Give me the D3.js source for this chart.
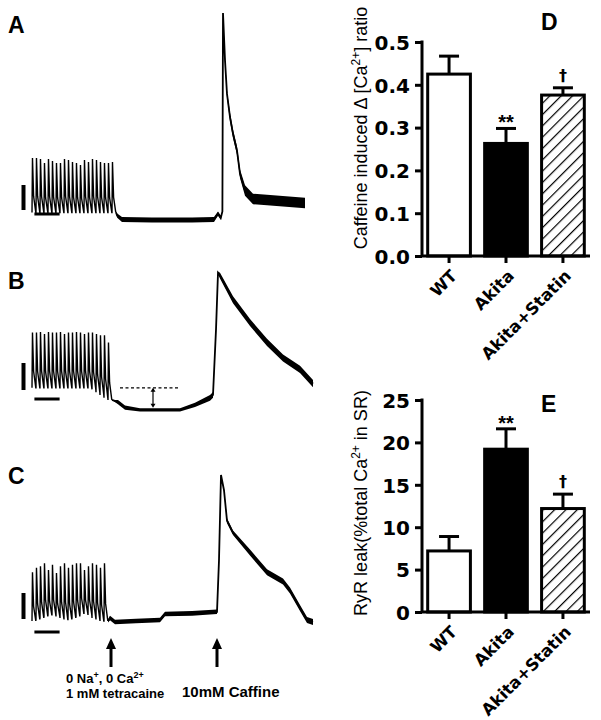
<!DOCTYPE html>
<html>
<head>
<meta charset="utf-8">
<script src="https://cdn.jsdelivr.net/npm/d3@7"></script>
<style>
  body { margin: 0; background: #fff; }
  svg { display: block; }
  text { font-family: "Liberation Sans", Arial, sans-serif; fill: #000; }
  .tick-lbl { font-family: "DejaVu Sans", sans-serif; font-weight: bold; font-size: 20px; }
  .cat-lbl { font-family: "DejaVu Sans", sans-serif; font-weight: bold; font-size: 16.5px; }
</style>
</head>
<body>
<div id="fig"></div>
<script>
// ---- bar chart data (D, E) ----
const categories = ["WT", "Akita", "Akita+Statin"];
const caffeineRatio = [0.425, 0.263, 0.376];
const caffeineSem = [0.042, 0.035, 0.017];
const ryrLeak = [7.2, 19.2, 12.2];
const ryrSem = [1.7, 2.4, 1.7];
const sigMarks = ["", "**", "\u2020"];
const ticksD = [0, 0.1, 0.2, 0.3, 0.4, 0.5];
const ticksE = [0, 5, 10, 15, 20, 25];

// ---- Ca2+ traces (A, B, C), time in s, signal in a.u. ----
// peak of each field-stimulated transient
const peaksA = [.305,.305,.30,.281,.30,.29,.281,.281,.30,.295,.286,.281,.271,.295,.286,.30,.295,.286,.281,.281,.286];
const troughsA = [.045,.045,.045,.045,.045,.045,.045,.045,.045,.045,.045,.045,.045,.045,.045,.045,.045,.045,.045,.045,.045];
const peaksB = [.56,.56,.563,.55,.563,.56,.56,.563,.55,.56,.56,.563,.56,.55,.56,.56,.55,.54,.54,.49];
const troughsB = [.17,.17,.17,.17,.17,.17,.17,.17,.17,.17,.17,.17,.17,.17,.17,.16,.14,.12,.10,.085];
const peaksC = [.34,.37,.38,.40,.355,.39,.335,.38,.40,.37,.39,.40,.40,.355,.38,.40,.39,.37,.40];
const troughsC = [.02,.03,.04,.05,.06,.06,.05,.04,.03,.03,.04,.05,.07,.07,.06,.04,.03,.02,.02];
// [time, signal, noise half-width] after stimulation stops
const restA = [[21,.045,.005],[21.3,.03,.01],[22.5,.012,.012],[30,.01,.012],[40,.01,.012],[45.5,.012,.012],
  [46.5,.04,.01],[47.2,.02,.01],[47.6,.05,0],[47.75,.995,0],[48.25,.77,.015],[48.75,.61,.015],[49.5,.50,.02],
  [50.25,.42,.02],[51.25,.34,.02],[52,.23,.02],[53.25,.15,.025],[55.25,.11,.025],[58.75,.105,.025],[68.25,.09,.025]];
const restB = [[20,.085,0],[21.5,.07,.015],[23.25,.03,.015],[27,.015,.012],[37,.015,.012],[40.75,.05,.015],
  [44.5,.10,.02],[45.25,.12,.02],[46,.58,.01],[46.5,.98,.01],[47,.96,.02],[50.25,.79,.025],[54.5,.63,.025],
  [58.75,.49,.025],[62.75,.38,.025],[67,.30,.025],[70.25,.20,.025]];
const restC = [[19,.02,.01],[19.5,.04,.015],[20.75,.013,.015],[26,.02,.015],[32,.026,.015],[33.25,.066,.015],
  [40,.07,.015],[46.25,.08,.015],[46.75,.42,0],[47.25,.98,0],[48,.88,.01],[48.75,.68,.015],[50.25,.60,.015],
  [54.5,.47,.02],[58.75,.34,.02],[62.75,.28,.02],[64.5,.22,.02],[67,.105,.02],[68.75,.026,.02],[70.25,.013,.02]];
const leakLevelB = 0.17;       // dashed reference line
const leakTimesB = [22, 37];
const solutionTimes = [19.75, 46.25]; // arrows under C

const W = 601, H = 720;
const svg = d3.select("#fig").append("svg").attr("width", W).attr("height", H);

// hatch pattern
svg.append("defs").append("pattern")
  .attr("id", "hatch").attr("patternUnits", "userSpaceOnUse")
  .attr("width", 8).attr("height", 8).attr("patternTransform", "rotate(45)")
  .append("line").attr("x1", 0).attr("y1", 0).attr("x2", 0).attr("y2", 8)
  .attr("stroke", "#000").attr("stroke-width", 2.4);

// ================= traces =================
const xT = d3.scaleLinear().domain([0, 70]).range([32, 312]);

const tracePanels = [
  {label: "A", peaks: peaksA, troughs: troughsA, rest: restA, range: [222, 12], letterY: 33, vbar: [185, 210], hbarY: 214},
  {label: "B", peaks: peaksB, troughs: troughsB, rest: restB, range: [412, 270], letterY: 289, vbar: [363, 390], hbarY: 399},
  {label: "C", peaks: peaksC, troughs: troughsC, rest: restC, range: [624, 472], letterY: 484, vbar: [593, 619], hbarY: 632}
];

tracePanels.forEach(p => {
  const y = d3.scaleLinear().domain([0, 1]).range(p.range);
  const g = svg.append("g");

  // stimulated transients
  const pts = [];
  p.peaks.forEach((pk, i) => {
    const tr = p.troughs[i];
    pts.push([i, tr], [i + 0.12, pk], [i + 0.4, tr + 0.3 * (pk - tr)], [i + 0.95, tr]);
  });
  g.append("path").datum(pts)
    .attr("d", d3.line().x(d => xT(d[0])).y(d => y(d[1])))
    .attr("fill", "none").attr("stroke", "#000").attr("stroke-width", 1.4);

  // noise band + mean line
  g.append("path").datum(p.rest)
    .attr("d", d3.area().x(d => xT(d[0])).y0(d => y(d[1] - d[2])).y1(d => y(d[1] + d[2])))
    .attr("fill", "#000");
  g.append("path").datum(p.rest)
    .attr("d", d3.line().x(d => xT(d[0])).y(d => y(d[1])))
    .attr("fill", "none").attr("stroke", "#000").attr("stroke-width", 1.8);

  // scale bars
  g.append("line").attr("x1", 23.5).attr("x2", 23.5).attr("y1", p.vbar[0]).attr("y2", p.vbar[1])
    .attr("stroke", "#000").attr("stroke-width", 4);
  g.append("line").attr("x1", xT(0.6)).attr("x2", xT(6.9)).attr("y1", p.hbarY).attr("y2", p.hbarY)
    .attr("stroke", "#000").attr("stroke-width", 3);

  g.append("text").attr("x", 8).attr("y", p.letterY)
    .style("font-size", "23px").style("font-weight", "bold").text(p.label);

  p.y = y;
});

// B: dashed line and double arrow
const yB = tracePanels[1].y;
svg.append("line").attr("x1", xT(leakTimesB[0])).attr("x2", xT(leakTimesB[1]))
  .attr("y1", yB(leakLevelB)).attr("y2", yB(leakLevelB))
  .attr("stroke", "#000").attr("stroke-width", 1.2).attr("stroke-dasharray", "3,2.5");
const xArr = xT(30.25);
svg.append("line").attr("x1", xArr).attr("x2", xArr).attr("y1", yB(leakLevelB) + 2).attr("y2", yB(0.03) - 2)
  .attr("stroke", "#000").attr("stroke-width", 1.2);
[[yB(leakLevelB), 1], [yB(0.03), -1]].forEach(([yy, s]) => {
  svg.append("path").attr("d", `M${xArr},${yy} l-2.5,${4 * s} l5,0 z`).attr("fill", "#000");
});

// C: solution arrows and labels
solutionTimes.forEach(t => {
  const xx = xT(t);
  svg.append("line").attr("x1", xx).attr("x2", xx).attr("y1", 667).attr("y2", 646)
    .attr("stroke", "#000").attr("stroke-width", 3);
  svg.append("path").attr("d", `M${xx},638 l-5,11 l10,0 z`).attr("fill", "#000");
});
const sol = svg.append("text").attr("x", 66).attr("y", 683)
  .style("font-size", "13px").style("font-weight", "bold");
sol.append("tspan").text("0 Na");
sol.append("tspan").attr("dy", -5).style("font-size", "9px").text("+");
sol.append("tspan").attr("dy", 5).text(", 0 Ca");
sol.append("tspan").attr("dy", -5).style("font-size", "9px").text("2+");
svg.append("text").attr("x", 66).attr("y", 698)
  .style("font-size", "13px").style("font-weight", "bold").text("1 mM tetracaine");
svg.append("text").attr("x", 182).attr("y", 697)
  .style("font-size", "15px").style("font-weight", "bold").text("10mM Caffine");

// ================= bar charts =================
function barChart(opt) {
  const g = svg.append("g");
  const x = d3.scaleBand().domain(categories).range([opt.left, 590])
    .paddingInner(0.25).paddingOuter(0.1);
  const y = d3.scaleLinear().domain([0, opt.max]).range([opt.bottom, opt.top]);

  const fills = ["#fff", "#000", "url(#hatch)"];
  g.selectAll("rect.bar").data(opt.values).join("rect")
    .attr("class", "bar")
    .attr("x", (d, i) => x(categories[i]))
    .attr("y", d => y(d))
    .attr("width", x.bandwidth())
    .attr("height", d => y(0) - y(d))
    .attr("fill", (d, i) => fills[i])
    .attr("stroke", "#000").attr("stroke-width", 3);

  // error bars (upper only)
  opt.values.forEach((v, i) => {
    const cx = x(categories[i]) + x.bandwidth() / 2;
    const top = y(v + opt.sem[i]);
    g.append("line").attr("x1", cx).attr("x2", cx).attr("y1", y(v)).attr("y2", top)
      .attr("stroke", "#000").attr("stroke-width", 3);
    g.append("line").attr("x1", cx - 10).attr("x2", cx + 10).attr("y1", top).attr("y2", top)
      .attr("stroke", "#000").attr("stroke-width", 3);
    if (sigMarks[i] === "**") {
      g.append("text").attr("x", cx).attr("y", top + 1).attr("text-anchor", "middle")
        .style("font-size", "20px").style("font-weight", "bold").text(sigMarks[i]);
    } else if (sigMarks[i]) {
      g.append("text").attr("x", cx).attr("y", top - 7).attr("text-anchor", "middle")
        .style("font-family", "'DejaVu Sans', sans-serif")
        .style("font-size", "16px").style("font-weight", "bold").text(sigMarks[i]);
    }
  });

  // y axis
  const yAxis = g.append("g").attr("transform", `translate(${opt.left},0)`)
    .call(d3.axisLeft(y).tickValues(opt.ticks).tickFormat(opt.fmt).tickSize(7).tickPadding(5));
  yAxis.select(".domain").attr("d", `M0,${opt.top - 1.5}V${opt.bottom}`).attr("stroke-width", 3);
  yAxis.selectAll(".tick line").attr("stroke-width", 3);
  yAxis.selectAll(".tick text").attr("class", "tick-lbl").attr("dy", "0.36em");

  // x axis
  const xAxis = g.append("g").attr("transform", `translate(0,${opt.bottom})`)
    .call(d3.axisBottom(x).tickSize(7).tickFormat(""));
  xAxis.select(".domain").attr("d", `M${opt.left},0H590`).attr("stroke-width", 3);
  xAxis.selectAll(".tick line").attr("stroke-width", 3);
  categories.forEach(c => {
    const cx = x(c) + x.bandwidth() / 2;
    g.append("text").attr("class", "cat-lbl")
      .attr("text-anchor", "end")
      .attr("transform", `translate(${cx + 9},${opt.bottom + 21}) rotate(-45)`)
      .text(c);
  });

  // y title
  const t = g.append("text").attr("text-anchor", "middle")
    .attr("transform", `translate(367,${opt.titleY}) rotate(-90)`)
    .style("font-size", "18px");
  opt.title(t);

  g.append("text").attr("x", opt.letterX).attr("y", opt.letterY)
    .style("font-size", "23px").style("font-weight", "bold").text(opt.letter);
}

barChart({
  values: caffeineRatio, sem: caffeineSem, ticks: ticksD, fmt: d3.format(".1f"), max: 0.5,
  left: 422, top: 42, bottom: 256, titleY: 128, letter: "D", letterX: 541, letterY: 30,
  title: t => {
    t.append("tspan").text("Caffeine induced \u0394 [Ca");
    t.append("tspan").attr("dy", -7).style("font-size", "12px").text("2+");
    t.append("tspan").attr("dy", 7).text("] ratio");
  }
});
barChart({
  values: ryrLeak, sem: ryrSem, ticks: ticksE, fmt: d3.format("d"), max: 25,
  left: 422, top: 400, bottom: 612, titleY: 503, letter: "E", letterX: 541, letterY: 412,
  title: t => {
    t.append("tspan").text("RyR leak(%total Ca");
    t.append("tspan").attr("dy", -7).style("font-size", "12px").text("2+");
    t.append("tspan").attr("dy", 7).text(" in SR)");
  }
});
</script>
</body>
</html>
